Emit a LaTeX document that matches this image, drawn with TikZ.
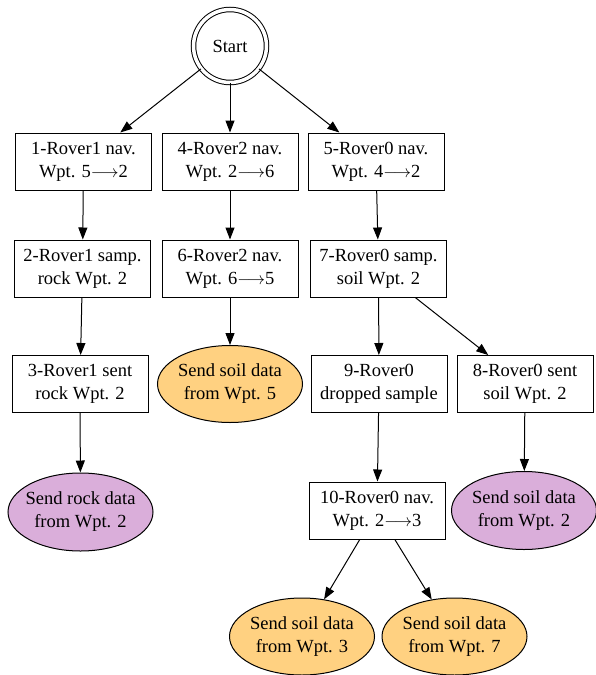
\documentclass[tikz,border=0pt]{standalone}
\usepackage{fontspec}
\setmainfont{Liberation Serif}
\usetikzlibrary{shapes.geometric,arrows.meta}
\definecolor{softorange}{HTML}{FFD181}
\definecolor{softplum}{HTML}{DAAEDA}
\begin{document}
\begin{tikzpicture}[x=1pt,y=1pt,
  every node/.style={font=\fontsize{18.5}{23}\selectfont, align=center, line width=1pt},
  boxnode/.style={draw, rectangle, minimum width=136pt, minimum height=57pt, inner sep=2pt},
  goalorange/.style={draw, ellipse, fill=softorange, minimum width=145pt, minimum height=77pt, inner xsep=-12pt, inner ysep=0pt},
  goalplum/.style={draw, ellipse, fill=softplum, minimum width=145pt, minimum height=78pt, inner xsep=-12pt, inner ysep=0pt},
  edge/.style={-{Triangle[length=12pt,width=9pt]}, line width=1pt}
]
\useasboundingbox (0,0) rectangle (595,-675);
\node[circle, draw, double, double distance=3.5pt, minimum size=73pt, inner sep=0pt] (start) at (230,-46) {Start};

\node[boxnode] (b1) at (83.5,-161.5) {1-Rover1 nav.\\Wpt. 5$\longrightarrow$2};
\node[boxnode] (b4) at (230,-161.5) {4-Rover2 nav.\\Wpt. 2$\longrightarrow$6};
\node[boxnode] (b5) at (376,-161.5) {5-Rover0 nav.\\Wpt. 4$\longrightarrow$2};

\node[boxnode] (b2) at (82.5,-268.5) {2-Rover1 samp.\\rock Wpt. 2};
\node[boxnode] (b6) at (230,-268.5) {6-Rover2 nav.\\Wpt. 6$\longrightarrow$5};
\node[boxnode] (b7) at (378.5,-268.5) {7-Rover0 samp.\\soil Wpt. 2};

\node[boxnode] (b3) at (80,-384) {3-Rover1 sent\\rock Wpt. 2};
\node[goalorange] (g5) at (230,-384) {Send soil data\\from Wpt. 5};
\node[boxnode] (b9) at (379,-384) {9-Rover0\\dropped sample};
\node[boxnode] (b8) at (525,-384) {8-Rover0 sent\\soil Wpt. 2};

\node[goalplum] (gr2) at (80.5,-512) {Send rock data\\from Wpt. 2};
\node[boxnode] (b10) at (377,-510.5) {10-Rover0 nav.\\Wpt. 2$\longrightarrow$3};
\node[goalplum] (gs2) at (524,-510.5) {Send soil data\\from Wpt. 2};

\node[goalorange] (g3) at (302,-636.5) {Send soil data\\from Wpt. 3};
\node[goalorange] (g7) at (454.5,-636.5) {Send soil data\\from Wpt. 7};

\draw[edge] (start) -- (b1);
\draw[edge] (start) -- (b4);
\draw[edge] (start) -- (b5);
\draw[edge] (b1) -- (b2);
\draw[edge] (b4) -- (b6);
\draw[edge] (b5) -- (b7);
\draw[edge] (b2) -- (b3);
\draw[edge] (b6) -- (g5);
\draw[edge] (b7) -- (b9);
\draw[edge] (b7) -- (b8);
\draw[edge] (b3) -- (gr2);
\draw[edge] (b9) -- (b10);
\draw[edge] (b8) -- (gs2);
\draw[edge] (b10) -- (g3);
\draw[edge] (b10) -- (g7);
\end{tikzpicture}
\end{document}
